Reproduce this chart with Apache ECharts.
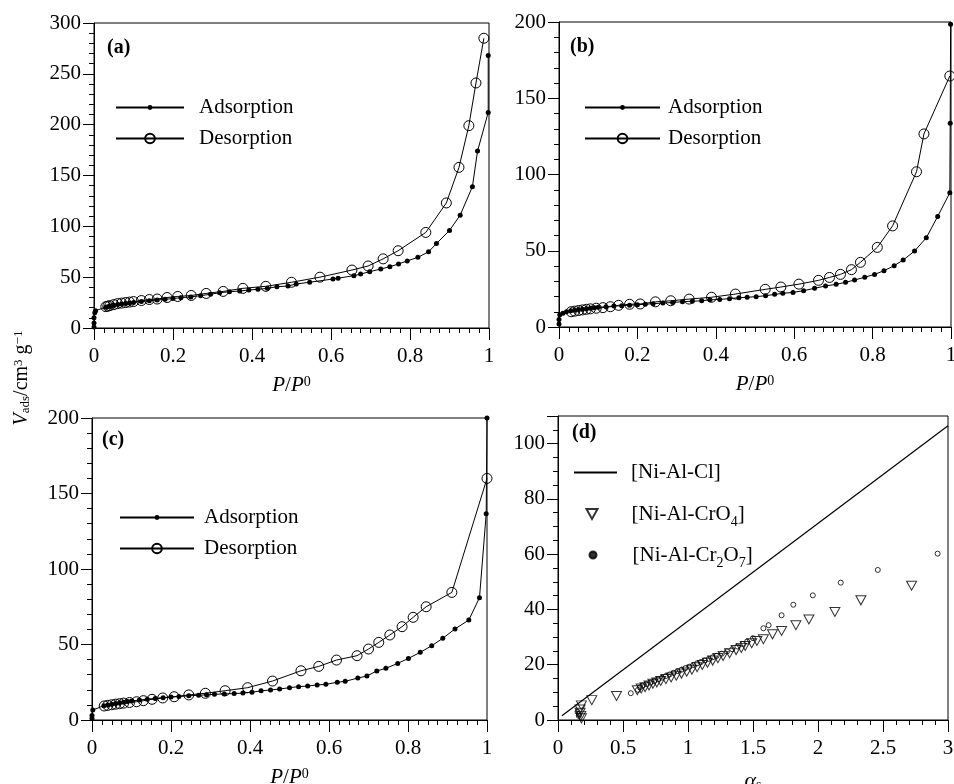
<!DOCTYPE html>
<html>
<head>
<meta charset="utf-8">
<script src="https://cdn.jsdelivr.net/npm/echarts@6/dist/echarts.min.js"></script>
<style>
html, body { margin: 0; background: #fff; }
#chart { width: 954px; height: 784px; }
</style>
</head>
<body>
<div id="chart"></div>
<script>
// panel (a): [P/P0, V]
var adsA = [[0,1],[0,5],[0,10],[0.002,15],[0.004,17],[0.03,20.5],[0.035,21],[0.04,21.5],[0.045,22],[0.05,22.3],[0.06,23],[0.07,23.5],[0.08,24],[0.09,24.6],[0.10,25.2],[0.12,26],[0.14,26.8],[0.16,27.5],[0.18,28.3],[0.20,29],[0.22,29.8],[0.245,30.6],[0.27,31.8],[0.295,33.2],[0.318,34.7],[0.343,35.7],[0.369,36.4],[0.392,37.4],[0.415,38],[0.439,39],[0.463,40.6],[0.491,41.3],[0.512,43.3],[0.546,45],[0.605,48.2],[0.618,49],[0.658,51.5],[0.675,53],[0.698,55.4],[0.726,58],[0.749,60.3],[0.771,63],[0.793,66],[0.82,69.5],[0.847,75],[0.867,83],[0.90,96],[0.927,111],[0.958,139],[0.971,174],[0.998,212],[0.998,268]];
var desA = [[0.987,285],[0.967,241],[0.949,199],[0.924,158],[0.892,123],[0.84,94],[0.77,76],[0.732,68],[0.694,61],[0.653,57],[0.572,50],[0.50,45],[0.435,41],[0.377,39],[0.327,36],[0.284,34],[0.246,32],[0.212,31],[0.185,30],[0.16,28.5],[0.14,28],[0.12,27],[0.10,26],[0.09,25.5],[0.08,25],[0.07,24.5],[0.06,24],[0.05,23],[0.04,22],[0.035,21.5],[0.03,21]];

// panel (b)
var adsB = [[0,2],[0,5],[0.002,8],[0.01,9],[0.019,10],[0.03,10.6],[0.04,11],[0.05,11.4],[0.06,11.7],[0.07,12],[0.08,12.3],[0.09,12.6],[0.10,12.9],[0.12,13.3],[0.14,13.7],[0.16,14],[0.18,14.3],[0.20,14.6],[0.22,14.9],[0.24,15.3],[0.265,15.7],[0.29,16.1],[0.315,16.6],[0.34,16.9],[0.364,17.2],[0.385,17.8],[0.41,18.1],[0.435,18.6],[0.459,19.2],[0.48,19.5],[0.503,19.9],[0.527,20.5],[0.55,21.4],[0.571,22.1],[0.597,22.7],[0.624,23.8],[0.652,25.4],[0.68,26.9],[0.707,28],[0.731,29.3],[0.754,30.8],[0.78,32.6],[0.805,34.5],[0.829,36.9],[0.855,40.2],[0.878,43.9],[0.907,49.8],[0.937,58.5],[0.966,72.5],[0.997,88],[0.998,133.6],[0.999,198.5]];
var desB = [[0.997,164.6],[0.931,126.6],[0.912,101.8],[0.851,66.3],[0.812,52.2],[0.769,42.4],[0.746,37.6],[0.718,34.5],[0.69,32.5],[0.662,30.6],[0.612,28.1],[0.566,26.2],[0.526,24.7],[0.45,21.6],[0.389,19.5],[0.332,18.3],[0.285,17.2],[0.246,16.5],[0.207,15.1],[0.18,14.9],[0.152,14.2],[0.131,13.3],[0.112,12.7],[0.095,12.3],[0.08,11.9],[0.07,11.6],[0.06,11.2],[0.05,10.8],[0.04,10.4],[0.031,10]];

// panel (c)
var adsC = [[0,1],[0,3],[0.002,6.6],[0.03,9.5],[0.04,10],[0.05,10.5],[0.06,11],[0.07,11.4],[0.08,11.8],[0.09,12.2],[0.10,12.6],[0.12,13.2],[0.14,13.8],[0.16,14.3],[0.18,14.8],[0.20,15.2],[0.22,15.6],[0.245,16],[0.27,16.4],[0.29,16.7],[0.31,17],[0.335,17.3],[0.36,17.5],[0.382,17.8],[0.405,18.4],[0.428,19.3],[0.452,19.9],[0.475,20.5],[0.5,21.4],[0.523,22.1],[0.546,22.5],[0.57,23.2],[0.592,23.6],[0.621,25],[0.641,25.6],[0.673,27.8],[0.696,29.1],[0.721,32.5],[0.744,34.2],[0.774,37.5],[0.801,40.8],[0.831,44.8],[0.86,49.2],[0.888,54.1],[0.919,60.3],[0.954,66.2],[0.981,81],[0.998,136.6],[1.0,200]];
var desC = [[1.0,160],[0.911,84.5],[0.846,75],[0.813,68],[0.785,61.8],[0.754,56.3],[0.726,51.4],[0.70,47],[0.671,42.6],[0.619,39.7],[0.574,35.5],[0.529,32.6],[0.457,25.8],[0.394,21.4],[0.337,19.4],[0.287,17.7],[0.245,16.6],[0.208,15.4],[0.179,14.6],[0.152,13.7],[0.13,12.8],[0.113,12.1],[0.095,11.6],[0.08,11.2],[0.07,10.8],[0.06,10.5],[0.05,10.1],[0.04,9.7],[0.031,9.3]];

// panel (d): [alpha_s, V]
var niAlCl = [[0.03,1.5],[3.0,106.5]];
var niAlCrO4 = [[0.18,0.6],[0.175,1.5],[0.17,2.6],[0.17,3.8],[0.18,5.3],[0.26,7.2],[0.45,8.7],[0.61,10.8],[0.64,11.4],[0.67,11.9],[0.70,12.5],[0.73,13.1],[0.76,13.6],[0.79,14.1],[0.83,14.8],[0.87,15.4],[0.91,16.0],[0.95,16.8],[0.99,17.5],[1.03,18.2],[1.07,19.1],[1.11,19.9],[1.15,20.7],[1.19,21.5],[1.23,22.4],[1.27,23.2],[1.32,24.2],[1.37,25.3],[1.41,26.1],[1.44,26.8],[1.49,27.8],[1.53,28.6],[1.58,29.2],[1.65,31.0],[1.72,32.2],[1.83,34.3],[1.93,36.4],[2.13,39.1],[2.33,43.3],[2.72,48.6]];
var niAlCr2O7 = [[0.15,3.0],[0.16,1.5],[0.16,2.2],[0.56,9.7],[0.615,10.9],[0.63,11.8],[0.65,12.4],[0.68,13.0],[0.71,13.5],[0.74,14.1],[0.77,14.7],[0.80,15.3],[0.83,15.9],[0.86,16.5],[0.89,17.1],[0.92,17.7],[0.95,18.2],[0.98,18.8],[1.01,19.3],[1.04,19.9],[1.07,20.5],[1.10,21.0],[1.13,21.6],[1.16,22.1],[1.19,22.7],[1.22,23.2],[1.26,24.0],[1.30,24.8],[1.34,25.6],[1.38,26.6],[1.42,27.5],[1.455,28.4],[1.50,29.6],[1.58,33.2],[1.62,34.3],[1.72,37.9],[1.81,41.7],[1.96,45.1],[2.175,49.7],[2.46,54.3],[2.92,60.2]];

var FONT = 'Liberation Serif';
var myChart = echarts.init(document.getElementById('chart'));

function axis(gi, max, interval, minorSplit, extra) {
    return Object.assign({
        gridIndex: gi, type: 'value', min: 0, max: max, interval: interval,
        axisLine: { show: true, onZero: false, lineStyle: { color: '#000', width: 1 } },
        axisTick: { show: true, inside: false, length: 11, lineStyle: { color: '#000' } },
        minorTick: { show: true, splitNumber: minorSplit, length: 5, lineStyle: { color: '#000' } },
        splitLine: { show: false },
        axisLabel: { color: '#000', fontFamily: FONT, fontSize: 21, margin: 13 }
    }, extra || {});
}

var pName = {
    name: '{i|P}/{i|P}{sup|0}', nameLocation: 'middle', nameGap: 47,
    nameTextStyle: {
        color: '#000', fontFamily: FONT, fontSize: 21,
        rich: {
            i: { fontStyle: 'italic', fontFamily: FONT, fontSize: 21, color: '#000' },
            sup: { fontFamily: FONT, fontSize: 14, verticalAlign: 'top', lineHeight: 14, color: '#000' }
        }
    }
};
var xLab = { color: '#000', fontFamily: FONT, fontSize: 21, margin: 18 };

function legendLine(name, left, top, w, h, pad) {
    return {
        data: [name], left: left, top: top, orient: 'vertical', padding: 0,
        itemWidth: w, itemHeight: h, selectedMode: false,
        textStyle: { color: '#000', fontFamily: FONT, fontSize: 21, padding: [0, 0, 0, pad] }
    };
}

function adsSeries(x, data) {
    return {
        name: 'Adsorption', type: 'line', xAxisIndex: x, yAxisIndex: x, data: data,
        symbol: 'circle', symbolSize: 5, color: '#000',
        lineStyle: { color: '#000', width: 1 }, itemStyle: { color: '#000' }, animation: false
    };
}
function desSeries(x, data) {
    return {
        name: 'Desorption', type: 'line', xAxisIndex: x, yAxisIndex: x, data: data,
        symbol: 'circle', symbolSize: 10, color: '#000',
        lineStyle: { color: '#000', width: 1 },
        itemStyle: { color: 'transparent', borderColor: '#000', borderWidth: 1 }, animation: false
    };
}

var subRich = {
    sub: { fontFamily: FONT, fontSize: 14, verticalAlign: 'bottom', lineHeight: 14, color: '#000' }
};
var titleStyle = { fontFamily: FONT, fontSize: 20, fontWeight: 'bold', color: '#000' };

var option = {
    backgroundColor: '#fff',
    title: [
        { text: '(a)', left: 107, top: 38, padding: 0, textStyle: titleStyle },
        { text: '(b)', left: 570, top: 37, padding: 0, textStyle: titleStyle },
        { text: '(c)', left: 102, top: 430, padding: 0, textStyle: titleStyle },
        { text: '(d)', left: 572, top: 423, padding: 0, textStyle: titleStyle }
    ],
    grid: [
        { left: 94, right: 465, top: 23, bottom: 456, show: true, borderColor: '#000', borderWidth: 1, outerBoundsMode: 'none' },
        { left: 559, right: 3, top: 22, bottom: 457, show: true, borderColor: '#000', borderWidth: 1, outerBoundsMode: 'none' },
        { left: 92, right: 467, top: 418, bottom: 64, show: true, borderColor: '#000', borderWidth: 1, outerBoundsMode: 'none' },
        { left: 558, right: 6, top: 416, bottom: 64, show: true, borderColor: '#000', borderWidth: 1, outerBoundsMode: 'none' }
    ],
    xAxis: [
        axis(0, 1, 0.2, 8, Object.assign({ axisLabel: xLab, axisTick: { length: 12, lineStyle: { color: '#000' } } }, pName)),
        axis(1, 1, 0.2, 8, Object.assign({ axisLabel: xLab, axisTick: { length: 12, lineStyle: { color: '#000' } } }, pName)),
        axis(2, 1, 0.2, 8, Object.assign({ axisLabel: xLab, axisTick: { length: 12, lineStyle: { color: '#000' } } }, pName)),
        axis(3, 3, 0.5, 5, {
            axisLabel: xLab, axisTick: { length: 12, lineStyle: { color: '#000' } },
            name: '{i|α}{sub|s}', nameLocation: 'middle', nameGap: 50,
            nameTextStyle: {
                color: '#000', fontFamily: FONT, fontSize: 21,
                rich: {
                    i: { fontStyle: 'italic', fontFamily: FONT, fontSize: 22, color: '#000' },
                    sub: { fontFamily: FONT, fontSize: 14, verticalAlign: 'bottom', lineHeight: 8, color: '#000' }
                }
            }
        })
    ],
    yAxis: [
        axis(0, 300, 50, 5),
        axis(1, 200, 50, 5),
        axis(2, 200, 50, 5),
        axis(3, 110, 20, 4, { axisLabel: { color: '#000', fontFamily: FONT, fontSize: 21, margin: 13, showMaxLabel: false } })
    ],
    legend: [
        legendLine('Adsorption', 115, 97, 68, 6, 10),
        legendLine('Desorption', 115, 128, 68, 12, 10),
        legendLine('Adsorption', 584, 97, 75, 6, 3),
        legendLine('Desorption', 584, 128, 75, 12, 3),
        legendLine('Adsorption', 119, 507, 74, 6, 5),
        legendLine('Desorption', 119, 538, 74, 12, 5),
        {
            data: [{ name: '[Ni-Al-Cl]', icon: 'rect' }], left: 574, top: 462, padding: 0,
            itemWidth: 43, itemHeight: 2, selectedMode: false,
            textStyle: { color: '#000', fontFamily: FONT, fontSize: 21, padding: [0, 0, 0, 9] }
        },
        {
            data: [{ name: '[Ni-Al-CrO4]', itemStyle: { borderWidth: 2 } }], left: 585.5, top: 499, padding: 0,
            itemWidth: 11, itemHeight: 10, selectedMode: false,
            formatter: function () { return '[Ni-Al-CrO{sub|4}]'; },
            textStyle: { color: '#000', fontFamily: FONT, fontSize: 21, lineHeight: 30, padding: [0, 0, 0, 29], rich: subRich }
        },
        {
            data: [{ name: '[Ni-Al-Cr2O7]', icon: 'circle', itemStyle: { color: '#000', borderColor: '#000' } }],
            left: 588.5, top: 540, padding: 0,
            itemWidth: 7, itemHeight: 7, selectedMode: false,
            formatter: function () { return '[Ni-Al-Cr{sub|2}O{sub|7}]'; },
            textStyle: { color: '#000', fontFamily: FONT, fontSize: 21, lineHeight: 30, padding: [0, 0, 0, 31], rich: subRich }
        }
    ],
    graphic: [{
        type: 'text', x: 22, y: 378, rotation: Math.PI / 2,
        style: {
            text: '{i|V}{sub|ads}/cm{sup|3} g{sup|−1}',
            fontFamily: FONT, fontSize: 20, fill: '#000', align: 'center', verticalAlign: 'middle',
            rich: {
                i: { fontStyle: 'italic', fontFamily: FONT, fontSize: 20, fill: '#000' },
                sub: { fontFamily: FONT, fontSize: 13, verticalAlign: 'bottom', lineHeight: 13, fill: '#000' },
                sup: { fontFamily: FONT, fontSize: 13, verticalAlign: 'top', lineHeight: 13, fill: '#000' }
            }
        }
    }],
    series: [
        adsSeries(0, adsA), desSeries(0, desA),
        adsSeries(1, adsB), desSeries(1, desB),
        adsSeries(2, adsC), desSeries(2, desC),
        {
            name: '[Ni-Al-Cl]', type: 'line', xAxisIndex: 3, yAxisIndex: 3, data: niAlCl,
            symbol: 'none', color: '#000', lineStyle: { color: '#000', width: 1.2 }, animation: false
        },
        {
            name: '[Ni-Al-CrO4]', type: 'scatter', xAxisIndex: 3, yAxisIndex: 3, data: niAlCrO4,
            symbol: 'path://M0,0 L10,0 L5,9 Z', symbolSize: [10, 9], color: '#000',
            itemStyle: { color: 'transparent', borderColor: '#000', borderWidth: 1 }, animation: false
        },
        {
            name: '[Ni-Al-Cr2O7]', type: 'scatter', xAxisIndex: 3, yAxisIndex: 3, data: niAlCr2O7,
            symbol: 'circle', symbolSize: 5, color: '#000',
            itemStyle: { color: 'transparent', borderColor: '#000', borderWidth: 1 }, animation: false
        }
    ]
};
myChart.setOption(option);
</script>
</body>
</html>
